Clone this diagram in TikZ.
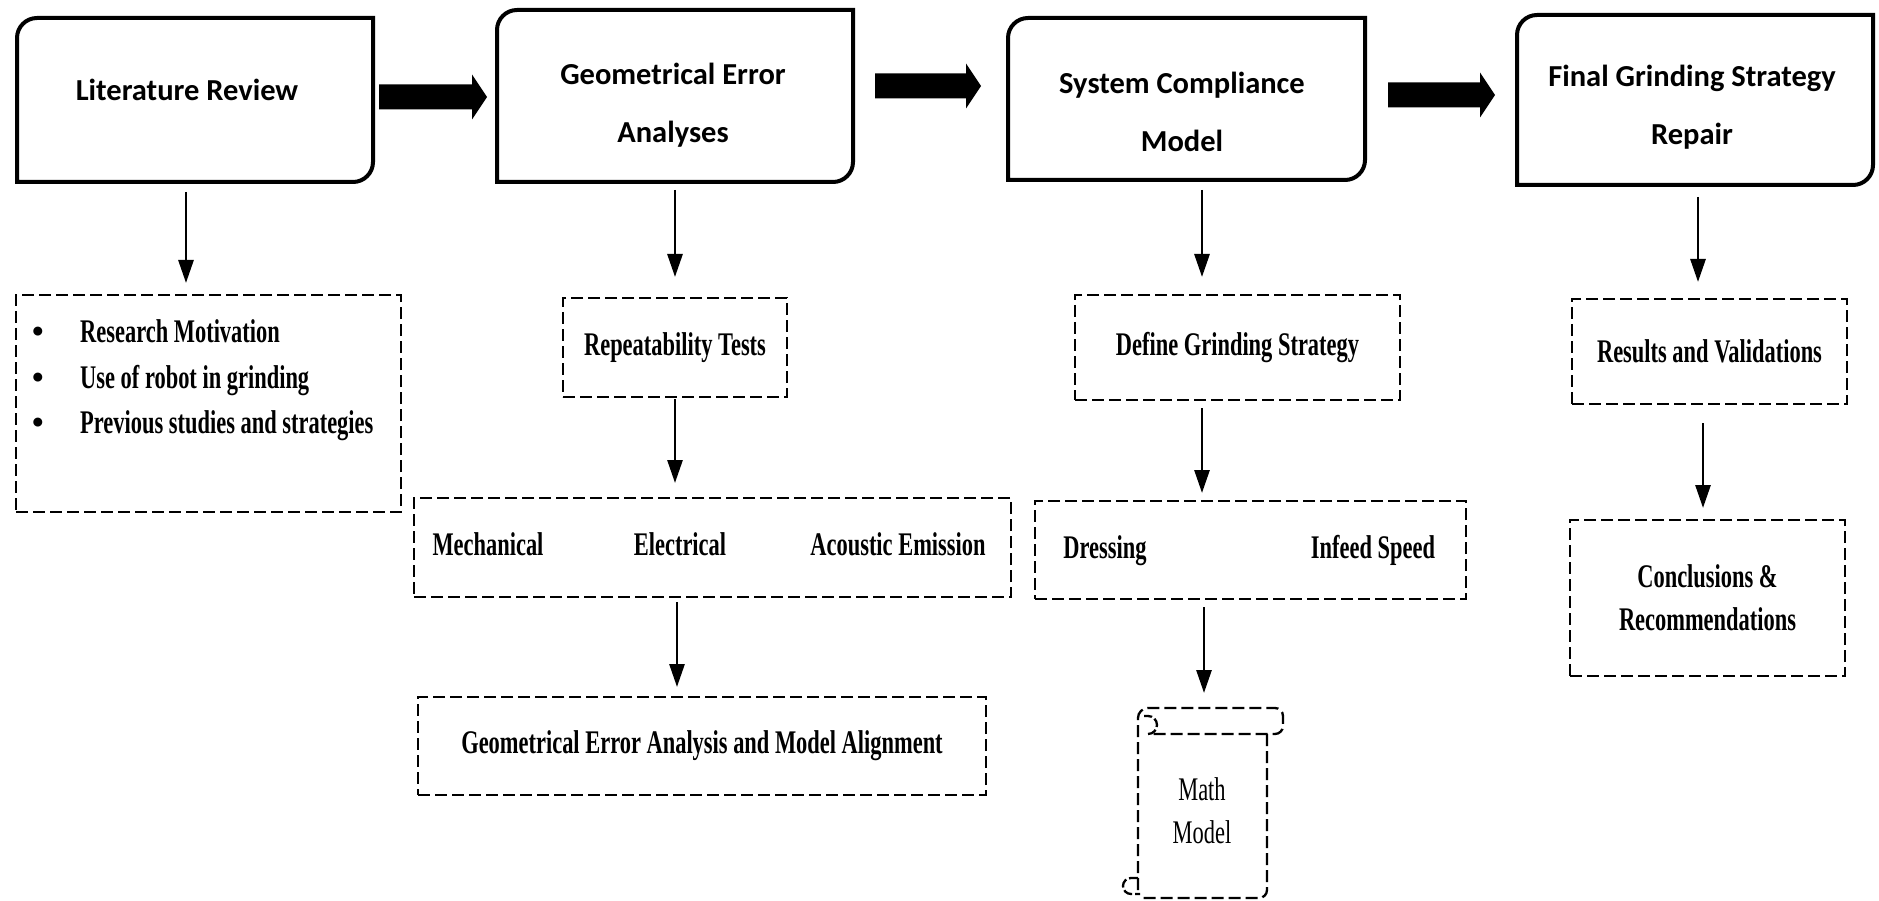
\documentclass[tikz,border=0pt]{standalone}
\usepackage{fontspec}
\setmainfont{Liberation Serif}
\newfontfamily\headfont{Carlito}
\newfontfamily\condfont{Liberation Serif}[FakeStretch=0.68]
\newfontfamily\bulfont{Liberation Serif}
\usetikzlibrary{arrows.meta,calc}
\newcommand\diagframe[1]{\draw[line width=4pt] (#1.south west) -- ($(#1.north west)+(0,-20)$) arc(180:90:20) -- (#1.north east) -- ($(#1.south east)+(0,20)$) arc(0:-90:20) -- cycle;}
\newcommand\blockarrow[2]{\fill ($(#1)+(0,12.5)$) -- ($(#2)+(-15,12.5)$) -- ($(#2)+(-15,22.5)$) -- (#2) -- ($(#2)+(-15,-22.5)$) -- ($(#2)+(-15,-12.5)$) -- ($(#1)+(0,-12.5)$) -- cycle;}
\begin{document}
\begin{tikzpicture}[x=1pt,y=1pt,
 headbox/.style={rectangle,draw=none,inner sep=0pt,outer sep=0pt},
 headtxt/.style={font=\headfont\bfseries\fontsize{30.5}{58}\selectfont,align=center,inner sep=0pt},
 subbox/.style={rectangle,draw,line width=2.3pt,dash pattern=on 12pt off 5pt,inner sep=0pt,outer sep=0pt,font=\condfont\bfseries\fontsize{33}{43}\selectfont,align=center},
 subtxt/.style={inner sep=0pt,font=\condfont\bfseries\fontsize{33}{43}\selectfont},
 down/.style={line width=2.8pt,-{Triangle[width=15pt,length=23pt]}},
 scrollline/.style={line width=2.3pt,dash pattern=on 12pt off 5pt},
 curlline/.style={line width=2.3pt,dash pattern=on 9pt off 3pt},
]
\fill[white] (0,0) rectangle (1879,-901);
\useasboundingbox (0,0) rectangle (1879,-901);

% heading boxes
\node[headbox,minimum width=356,minimum height=164] (lit) at (195,-100) {};
\node[headbox,minimum width=356,minimum height=172] (geo) at (675,-96) {};
\node[headbox,minimum width=357,minimum height=162] (sys) at (1186.5,-99) {};
\node[headbox,minimum width=356,minimum height=170] (fin) at (1695,-100) {};
\diagframe{lit}
\diagframe{geo}
\diagframe{sys}
\diagframe{fin}
\node[headtxt] (litt) at (187,-90) {Literature Review};
\node[headtxt] (geot) at (673,-105) {Geometrical Error\\Analyses};
\node[headtxt] (syst) at (1182,-112) {System Compliance\\Model};
\node[headtxt] (fint) at (1692,-107) {Final Grinding Strategy\\Repair};

% block arrows
\coordinate (b1s) at ($(lit.east)+(6,3)$);
\coordinate (b1e) at ($(b1s -| geo.west)+(-10,0)$);
\coordinate (b2s) at ($(geo.east)+(22,10)$);
\coordinate (b2e) at ($(b2s -| sys.west)+(-27,0)$);
\coordinate (b3s) at ($(sys.east)+(23,4)$);
\coordinate (b3e) at ($(b3s -| fin.west)+(-22,0)$);
\blockarrow{b1s}{b1e}
\blockarrow{b2s}{b2e}
\blockarrow{b3s}{b3e}

% column 1
\node[subbox,minimum width=385,minimum height=217] (litsub) at (208.5,-403.5) {};
\node[subtxt,anchor=base west] (l1) at (32,-342) {\makebox[48pt][l]{\bulfont\bfseries\textbullet}Research Motivation};
\node[subtxt,anchor=base west] (l2) at (32,-388) {\makebox[48pt][l]{\bulfont\bfseries\textbullet}Use of robot in grinding};
\node[subtxt,anchor=base west] (l3) at (32,-433) {\makebox[48pt][l]{\bulfont\bfseries\textbullet}Previous studies and strategies};

% column 2
\node[subbox,minimum width=224,minimum height=99] (rep) at (675,-347.5) {Repeatability Tests};
\node[subbox,minimum width=597,minimum height=99] (mech) at (712.5,-547.5) {};
\node[subtxt,anchor=base] (m1) at (488,-555) {Mechanical};
\node[subtxt,anchor=base] (m2) at (680,-555) {Electrical};
\node[subtxt,anchor=base] (m3) at (898,-555) {Acoustic Emission};
\node[subbox,minimum width=568,minimum height=98] (gea) at (702,-746) {Geometrical Error Analysis and Model Alignment};

% column 3
\node[subbox,minimum width=325,minimum height=105] (def) at (1237.5,-347.5) {Define Grinding Strategy};
\node[subbox,minimum width=431,minimum height=98] (dress) at (1250.5,-550) {};
\node[subtxt,anchor=base] (d1) at (1105,-558) {Dressing};
\node[subtxt,anchor=base] (d2) at (1373,-558) {Infeed Speed};
\node[headbox,minimum width=145,minimum height=190] (mm) at (1210.5,-803) {};
\draw[scrollline] (1138,-890) -- (1138,-718) arc(180:90:10) -- (1275,-708) arc(90:0:8) -- (1283,-726) arc(0:-90:8) -- (1152,-734);
\draw[curlline] (1148,-734) arc(-90:90:9) -- (1144,-716);
\draw[scrollline] (1267,-734) -- (1267,-890) arc(0:-90:8) -- (1140,-898);
\draw[curlline] (1138,-878) -- (1131,-878) arc(90:270:8) -- (1140,-894);
\node[inner sep=0pt,align=center,font=\condfont\fontsize{33}{43}\selectfont] (mmt) at (1202,-811) {Math\\Model};

% column 4
\node[subbox,minimum width=275,minimum height=105] (res) at (1709.5,-351.5) {Results and Validations};
\node[subbox,minimum width=275,minimum height=156] (con) at (1707.5,-598) {Conclusions \&\\Recommendations};

% down arrows
\draw[down] ($(lit.south)+(-9,-10)$) -- ($(lit.south |- litsub.north)+(-9,12)$);
\draw[down] ($(geo.south)+(0,-8)$) -- ($(geo.south |- rep.north)+(0,21)$);
\draw[down] ($(rep.south)+(0,-2)$) -- ($(rep.south |- mech.north)+(0,15)$);
\draw[down] ($(mech.south)+(-35.5,-5)$) -- ($(mech.south |- gea.north)+(-35.5,10)$);
\draw[down] ($(sys.south)+(15.5,-10)$) -- ($(sys.south |- def.north)+(15.5,18)$);
\draw[down] ($(def.south)+(-35.5,-8)$) -- ($(def.south |- dress.north)+(-35.5,8)$);
\draw[down] ($(dress.south)+(-46.5,-8)$) -- ($(dress.south |- mm.north)+(-46.5,15)$);
\draw[down] ($(fin.south)+(3,-12)$) -- ($(fin.south |- res.north)+(3,17)$);
\draw[down] ($(res.south)+(-6.5,-19)$) -- ($(res.south |- con.north)+(-6.5,12)$);
\end{tikzpicture}
\end{document}
